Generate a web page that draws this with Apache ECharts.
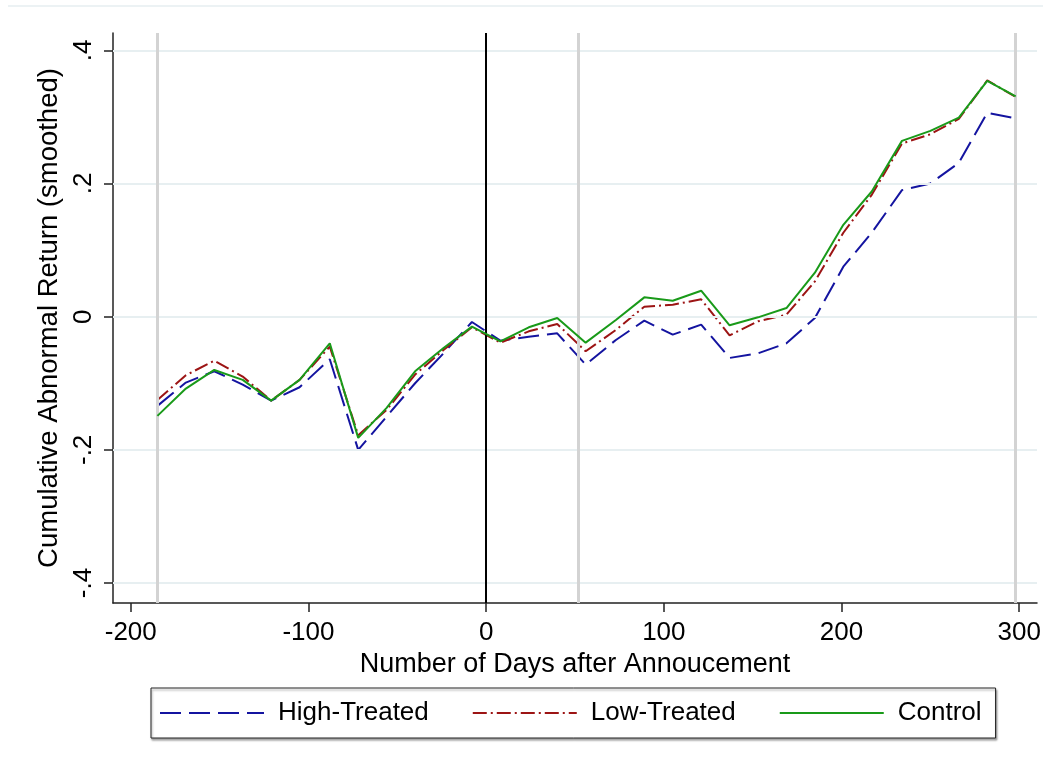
<!DOCTYPE html>
<html>
<head>
<meta charset="utf-8">
<script src="https://cdn.jsdelivr.net/npm/echarts@6/dist/echarts.min.js"></script>
<style>
  html, body { margin: 0; padding: 0; background: #ffffff; }
  #chart { width: 1054px; height: 771px; }
</style>
</head>
<body>
<div id="chart"></div>
<script>
// Days relative to the announcement date
const days = [-185, -169, -153, -137, -121, -105, -88, -72, -56, -40, -24, -8, 8, 24, 40, 56,
  73, 89, 105, 121, 137, 153, 169, 185, 201, 217, 234, 250, 266, 282, 298];

// Smoothed cumulative abnormal returns by group
const highTreated = [-0.134, -0.099, -0.082, -0.102, -0.126, -0.106, -0.064, -0.200, -0.150, -0.100,
  -0.055, -0.008, -0.036, -0.030, -0.025, -0.072, -0.035, -0.006, -0.027, -0.012, -0.062, -0.055,
  -0.040, -0.002, 0.075, 0.126, 0.190, 0.200, 0.231, 0.306, 0.298];
const lowTreated = [-0.125, -0.088, -0.066, -0.090, -0.126, -0.095, -0.045, -0.178, -0.140, -0.087,
  -0.050, -0.016, -0.039, -0.022, -0.011, -0.052, -0.020, 0.015, 0.018, 0.026, -0.028, -0.007,
  0.003, 0.053, 0.126, 0.183, 0.260, 0.274, 0.297, 0.355, 0.330];
const control = [-0.149, -0.108, -0.080, -0.095, -0.126, -0.095, -0.040, -0.182, -0.137, -0.082,
  -0.047, -0.015, -0.037, -0.016, -0.002, -0.039, -0.005, 0.029, 0.024, 0.039, -0.013, -0.001,
  0.013, 0.066, 0.138, 0.188, 0.264, 0.279, 0.299, 0.354, 0.331];

// Axis ticks and reference lines
const xTicks = [-200, -100, 0, 100, 200, 300];
const yTicks = [-0.4, -0.2, 0, 0.2, 0.4];
const grayRefDays = [-185, 52, 298];
const eventDay = [0];

const pairs = ys => days.map((d, i) => [d, ys[i]]);
const fmtY = v => {
  if (Math.abs(v) < 1e-9) return '0';
  const s = v.toFixed(1);
  return s.replace(/^(-?)0\./, '$1.');
};

const FONT = '"Liberation Sans", Arial, sans-serif';

const chart = echarts.init(document.getElementById('chart'), null, { renderer: 'canvas' });

chart.setOption({
  backgroundColor: '#ffffff',
  animation: false,
  textStyle: { fontFamily: FONT },
  grid: { left: 113, right: 17, top: 33, bottom: 168, containLabel: false },
  xAxis: {
    type: 'value',
    min: -210,
    max: 310,
    name: 'Number of Days after Annoucement',
    nameLocation: 'middle',
    nameGap: 43,
    nameTextStyle: { fontSize: 27, color: '#000', fontFamily: FONT },
    axisLine: { show: true, onZero: false, lineStyle: { color: '#222', width: 1.5 } },
    axisTick: { show: true, length: 9, lineStyle: { color: '#222', width: 1.5 }, customValues: xTicks },
    axisLabel: { fontSize: 26, color: '#000', margin: 17, customValues: xTicks, fontFamily: FONT },
    splitLine: { show: false }
  },
  yAxis: {
    type: 'value',
    min: -0.43,
    max: 0.426,
    name: 'Cumulative Abnormal Return (smoothed)',
    nameLocation: 'middle',
    nameGap: 48,
    nameTextStyle: { fontSize: 27.5, color: '#000', fontFamily: FONT },
    axisLine: { show: true, onZero: false, lineStyle: { color: '#222', width: 1.5 } },
    axisTick: { show: true, length: 9, lineStyle: { color: '#222', width: 1.5 }, customValues: yTicks },
    axisLabel: {
      fontSize: 26, color: '#000', margin: 16, rotate: 90,
      customValues: yTicks, formatter: fmtY, fontFamily: FONT
    },
    splitLine: { show: false }
  },
  legend: {
    left: 151,
    top: 688,
    orient: 'horizontal',
    itemWidth: 104,
    itemHeight: 14,
    itemGap: 43,
    padding: [12, 14, 12, 8],
    borderColor: '#222',
    borderWidth: 1,
    shadowColor: 'rgba(0,0,0,0.35)',
    shadowOffsetX: 1,
    shadowOffsetY: 2,
    shadowBlur: 2,
    backgroundColor: '#ffffff',
    itemStyle: { opacity: 0 },
    textStyle: { fontSize: 26, color: '#000', fontFamily: FONT, padding: [0, 0, 0, 9] },
    data: ['High-Treated', 'Low-Treated', 'Control']
  },
  graphic: [
    {
      type: 'line',
      shape: { x1: 8, y1: 6, x2: 1043, y2: 6 },
      style: { stroke: '#e6eef0', lineWidth: 1.5 },
      silent: true
    }
  ],
  series: [
    {
      // reference grid and vertical markers
      type: 'line',
      name: 'guides',
      data: [],
      z: 1,
      silent: true,
      markLine: {
        silent: true,
        symbol: 'none',
        label: { show: false },
        animation: false,
        data: [
          ...yTicks.map(v => ({ yAxis: v, lineStyle: { color: '#e7eff1', width: 2, type: 'solid' } })),
          ...grayRefDays.map(v => ({ xAxis: v, lineStyle: { color: '#d3d3d3', width: 3, type: 'solid' } })),
          ...eventDay.map(v => ({ xAxis: v, lineStyle: { color: '#000000', width: 2, type: 'solid' } }))
        ]
      }
    },
    {
      type: 'line',
      name: 'High-Treated',
      data: pairs(highTreated),
      symbol: 'none',
      z: 3,
      lineStyle: { color: '#1414a0', width: 2, type: [21, 8] },
      itemStyle: { color: '#1414a0' }
    },
    {
      type: 'line',
      name: 'Low-Treated',
      data: pairs(lowTreated),
      symbol: 'none',
      z: 4,
      lineStyle: { color: '#9c1414', width: 2, type: [14, 4, 2, 4] },
      itemStyle: { color: '#9c1414' }
    },
    {
      type: 'line',
      name: 'Control',
      data: pairs(control),
      symbol: 'none',
      z: 5,
      lineStyle: { color: '#199a19', width: 2, type: 'solid' },
      itemStyle: { color: '#199a19' }
    }
  ]
});
</script>
</body>
</html>
